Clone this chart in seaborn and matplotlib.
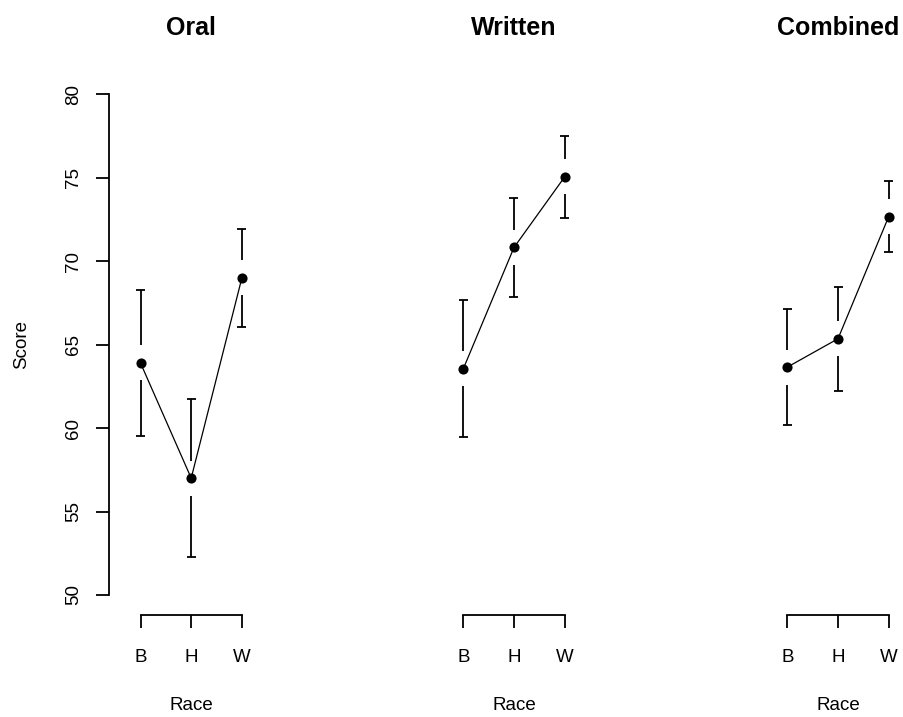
import numpy as np
import pandas as pd
import matplotlib
matplotlib.use("Agg")
import matplotlib.pyplot as plt
import seaborn as sns

# ---- data ----
races = ["B", "H", "W"]
panels = ["Oral", "Written", "Combined"]
oral_mean = [63.9, 57.0, 69.0]
oral_err = [4.35, 4.73, 2.93]
written_mean = [63.55, 70.82, 75.05]
written_err = [4.1, 2.97, 2.45]
combined_mean = [63.65, 65.35, 72.67]
combined_err = [3.48, 3.1, 2.12]
y_ticks = [50, 55, 60, 65, 70, 75, 80]
y_label = "Score"
x_label = "Race"

means = {"Oral": oral_mean, "Written": written_mean, "Combined": combined_mean}
errs = {"Oral": oral_err, "Written": written_err, "Combined": combined_err}
rows = []
for p in panels:
    for i, r in enumerate(races):
        rows.append({"panel": p, "race": r, "pos": i + 1,
                     "mean": means[p][i], "err": errs[p][i]})
df = pd.DataFrame(rows)

sns.set_theme(style="ticks")
plt.rcParams["font.family"] = ["Liberation Sans", "DejaVu Sans"]
plt.rcParams["axes.linewidth"] = 1.3
for key in ["text.color", "axes.labelcolor", "xtick.color", "ytick.color",
            "axes.edgecolor", "axes.titlecolor"]:
    plt.rcParams[key] = "black"

W, H = 904, 717
fig = plt.figure(figsize=(W / 100, H / 100), dpi=100)

ylo, yhi = 50 - 1.2, 80 + 1.2
xlo, xhi = 0.38, 3.62
ppu_x = 50.7
ax_w_px = (xhi - xlo) * ppu_x
top_px, bot_px = 74.2, 615.0
ax_h_px = bot_px - top_px
first_B_px = [140.5, 463.3, 787.3]

label_fs = 13.5
title_fs = 18

for k, p in enumerate(panels):
    left_px = first_B_px[k] - (1 - xlo) * ppu_x
    ax = fig.add_axes([left_px / W, 1 - bot_px / H, ax_w_px / W, ax_h_px / H])
    d = df[df.panel == p]
    ax.set_xlim(xlo, xhi)
    ax.set_ylim(ylo, yhi)

    sns.lineplot(data=d, x="pos", y="mean", color="black", lw=0.9,
                 marker="o", markersize=7.3, markeredgewidth=0,
                 markerfacecolor="black", ax=ax)

    ppu_y = ax_h_px / (yhi - ylo)
    gap = 17.5 / ppu_y
    cap = 4.5 / ppu_x
    for _, r in d.iterrows():
        lo, hi = r["mean"] - r["err"], r["mean"] + r["err"]
        ax.vlines(r["pos"], r["mean"] + gap, hi, color="black", lw=1.3)
        ax.vlines(r["pos"], lo, r["mean"] - gap, color="black", lw=1.3)
        ax.hlines([lo, hi], r["pos"] - cap, r["pos"] + cap, color="black", lw=1.3)

    sns.despine(ax=ax, top=True, right=True, left=(k != 0))
    ax.spines["bottom"].set_bounds(1, 3)
    ax.set_xticks([1, 2, 3])
    ax.set_xticklabels(races, fontsize=label_fs)
    ax.tick_params(axis="x", length=9.4, width=1.3, pad=15, color="black")
    ax.set_xlabel(x_label, fontsize=label_fs)
    ax.xaxis.set_label_coords(0.5, -(706 - bot_px) / ax_h_px)
    ax.xaxis.label.set_va("center")

    if k == 0:
        ax.spines["left"].set_bounds(50, 80)
        ax.set_yticks(y_ticks)
        ax.set_yticklabels([str(t) for t in y_ticks], fontsize=label_fs,
                           rotation=90, va="center")
        ax.tick_params(axis="y", length=9.4, width=1.3, pad=10, color="black")
        ax.set_ylabel(y_label, fontsize=label_fs)
        ax.yaxis.set_label_coords((22 - left_px) / ax_w_px, 0.5)
        ax.yaxis.label.set_va("center")
    else:
        ax.set_yticks([])
        ax.set_ylabel("")

    ax.set_title(p, fontsize=title_fs, fontweight="bold", pad=0,
                 y=1 + (top_px - 28) / ax_h_px, va="center")

fig.savefig("out.png", dpi=100, facecolor="white")
